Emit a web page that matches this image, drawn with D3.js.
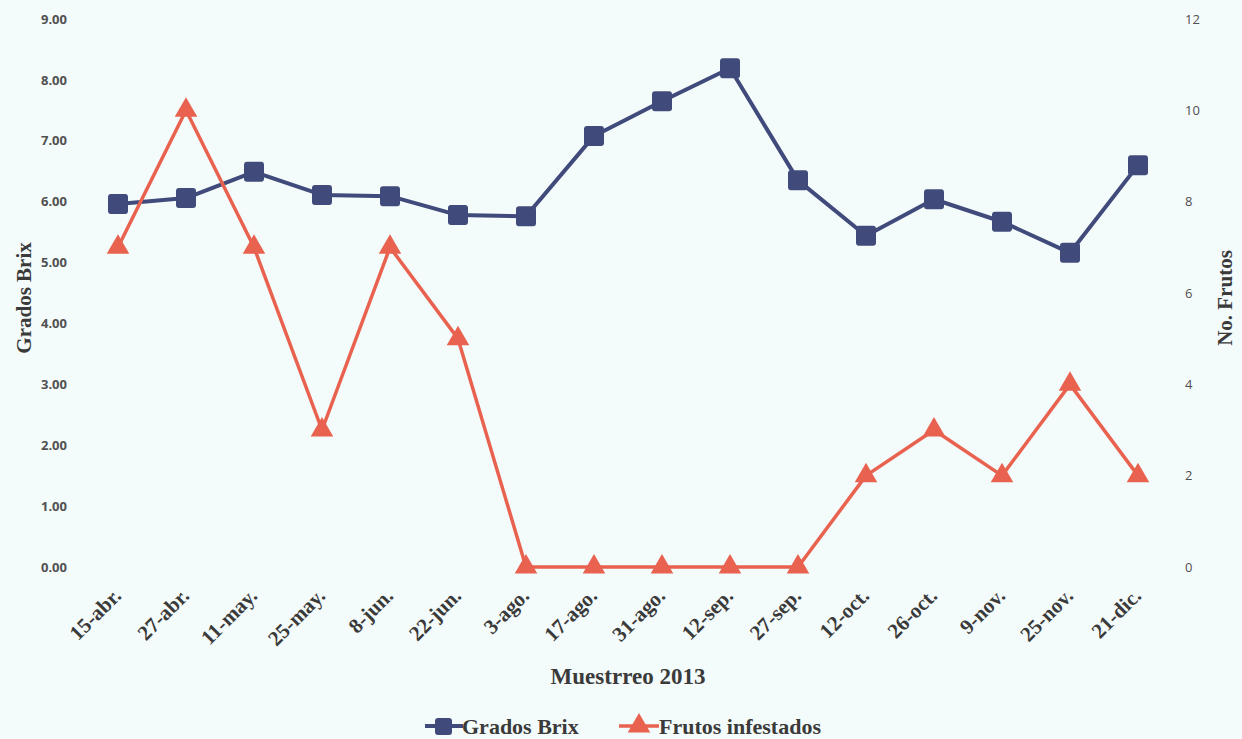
<!DOCTYPE html>
<html>
<head>
<meta charset="utf-8">
<script src="https://cdn.jsdelivr.net/npm/d3@7/dist/d3.min.js"></script>
<style>
  html, body { margin: 0; padding: 0; background: #f4fbfb; }
  svg { display: block; }
</style>
</head>
<body>
<svg id="chart" width="1242" height="739"></svg>
<script>
// Sampling dates (2013)
const categories = ["15-abr.", "27-abr.", "11-may.", "25-may.", "8-jun.", "22-jun.", "3-ago.", "17-ago.",
  "31-ago.", "12-sep.", "27-sep.", "12-oct.", "26-oct.", "9-nov.", "25-nov.", "21-dic."];
// Degrees Brix per sampling
const brixValues = [5.96, 6.06, 6.49, 6.11, 6.09, 5.78, 5.76, 7.08, 7.65, 8.19, 6.35, 5.44, 6.04, 5.67, 5.16, 6.60];
// Infested fruits per sampling
const frutosValues = [7, 10, 7, 3, 7, 5, 0, 0, 0, 0, 0, 2, 3, 2, 4, 2];
const leftTicks = [0, 1, 2, 3, 4, 5, 6, 7, 8, 9];
const rightTicks = [0, 2, 4, 6, 8, 10, 12];

const blue = "#414b7b";
const orange = "#e8624f";
const textColor = "#3a3a3a";
const serif = "'Liberation Serif', 'Times New Roman', serif";

const svg = d3.select("#chart");
const plot = { left: 84, right: 1172, top: 19, bottom: 567 };

const x = d3.scalePoint().domain(categories).range([plot.left, plot.right]).padding(0.5);
const yL = d3.scaleLinear().domain([0, 9]).range([plot.bottom, plot.top]);
const yR = d3.scaleLinear().domain([0, 12]).range([plot.bottom, plot.top]);

// Left axis (Brix)
const axL = svg.append("g").attr("transform", `translate(${plot.left},0)`)
  .call(d3.axisLeft(yL).tickValues(leftTicks).tickFormat(d3.format(".2f")).tickSize(0).tickPadding(17));
axL.select(".domain").remove();
axL.selectAll("text").attr("font-family", "'Open Sans', sans-serif").attr("font-weight", "bold")
  .attr("font-size", 13).attr("fill", "#505050");

// Right axis (fruit count)
const axR = svg.append("g").attr("transform", `translate(${plot.right},0)`)
  .call(d3.axisRight(yR).tickValues(rightTicks).tickSize(0).tickPadding(13));
axR.select(".domain").remove();
axR.selectAll("text").attr("font-family", "'Open Sans', sans-serif")
  .attr("font-size", 13).attr("fill", "#505050");

// Date labels, slanted
const axB = svg.append("g").attr("transform", `translate(0,${plot.bottom})`)
  .call(d3.axisBottom(x).tickSize(0).tickPadding(0));
axB.select(".domain").remove();
axB.selectAll("text")
  .attr("font-family", serif).attr("font-weight", "bold")
  .attr("font-size", 21).attr("fill", textColor)
  .attr("text-anchor", "end").attr("dy", null).attr("y", 0)
  .attr("transform", "translate(4,30) rotate(-45)");

// Axis titles
svg.append("text").attr("transform", "translate(31,298) rotate(-90)")
  .attr("text-anchor", "middle").attr("font-family", serif).attr("font-weight", "bold")
  .attr("font-size", 21).attr("fill", textColor).text("Grados Brix");
svg.append("text").attr("transform", "translate(1232,298) rotate(-90)")
  .attr("text-anchor", "middle").attr("font-family", serif).attr("font-weight", "bold")
  .attr("font-size", 21).attr("fill", textColor).text("No. Frutos");
svg.append("text").attr("x", 628).attr("y", 684)
  .attr("text-anchor", "middle").attr("font-family", serif).attr("font-weight", "bold")
  .attr("font-size", 23).attr("fill", textColor).text("Muestrreo 2013");

// Series lines
const lineL = d3.line().x((d, i) => x(categories[i])).y(d => yL(d));
const lineR = d3.line().x((d, i) => x(categories[i])).y(d => yR(d));

svg.append("path").datum(brixValues).attr("d", lineL)
  .attr("fill", "none").attr("stroke", blue).attr("stroke-width", 4).attr("stroke-linejoin", "round");
svg.append("path").datum(frutosValues).attr("d", lineR)
  .attr("fill", "none").attr("stroke", orange).attr("stroke-width", 3.5).attr("stroke-linejoin", "round");

// Markers
const sq = 20;
svg.append("g").selectAll("rect").data(brixValues).join("rect")
  .attr("x", (d, i) => x(categories[i]) - sq / 2).attr("y", d => yL(d) - sq / 2)
  .attr("width", sq).attr("height", sq).attr("rx", 3)
  .attr("fill", blue);

const tri = d3.symbol().type(d3.symbolTriangle).size(220);
svg.append("g").selectAll("path").data(frutosValues).join("path")
  .attr("transform", (d, i) => `translate(${x(categories[i])},${yR(d)})`)
  .attr("d", tri).attr("fill", orange);

// Legend
const legend = svg.append("g").attr("transform", "translate(0,726)");
legend.append("line").attr("x1", 425).attr("x2", 463).attr("y1", 0).attr("y2", 0)
  .attr("stroke", blue).attr("stroke-width", 4);
legend.append("rect").attr("x", 435).attr("y", -8).attr("width", 17).attr("height", 17).attr("rx", 3).attr("fill", blue);
legend.append("text").attr("x", 462).attr("y", 8).attr("font-family", serif).attr("font-weight", "bold")
  .attr("font-size", 22).attr("fill", textColor).text("Grados Brix");
legend.append("line").attr("x1", 619).attr("x2", 659).attr("y1", 0).attr("y2", 0)
  .attr("stroke", orange).attr("stroke-width", 3.5);
legend.append("path").attr("transform", "translate(639,0)").attr("d", tri).attr("fill", orange);
legend.append("text").attr("x", 659).attr("y", 8).attr("font-family", serif).attr("font-weight", "bold")
  .attr("font-size", 22).attr("fill", textColor).text("Frutos infestados");
</script>
</body>
</html>
